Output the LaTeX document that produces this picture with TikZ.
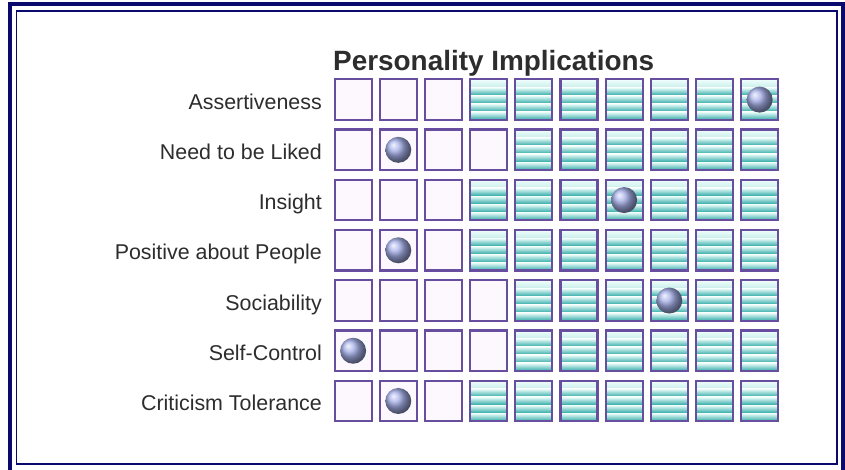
\documentclass[tikz,border=0pt]{standalone}
\usepackage{fontspec}
\setmainfont{Liberation Sans}
\usetikzlibrary{calc}
\definecolor{navy}{RGB}{10,10,110}
\definecolor{cellborder}{RGB}{104,78,158}
\definecolor{cellfill}{RGB}{253,248,253}
\definecolor{stripetop}{RGB}{240,255,252}
\definecolor{stripemid}{RGB}{100,228,214}
\definecolor{stripebot}{RGB}{45,168,165}
\definecolor{ballblue}{RGB}{165,175,232}
\definecolor{textgray}{RGB}{45,45,45}
\tikzset{
  cellbox/.style={draw=cellborder, line width=2.2pt, minimum width=37pt, minimum height=40.6pt, inner sep=0pt},
  emptycell/.style={cellbox, fill=cellfill},
  filledcell/.style={cellbox, fill=stripemid, path picture={
    \foreach \i [evaluate=\i as \a using \i/5, evaluate=\i as \b using (\i+1)/5] in {0,...,4}
      \shade[top color=stripetop, middle color=stripemid, bottom color=stripebot]
        ($(path picture bounding box.north west)!\a!(path picture bounding box.south west)$)
        rectangle
        ($(path picture bounding box.north east)!\b!(path picture bounding box.south east)$);
  }},
  ballnode/.style={circle, inner sep=0pt, minimum size=26pt, ball color=ballblue},
  lab/.style={anchor=base east, inner sep=0pt, text=textgray, font=\fontsize{21.4}{25}\selectfont},
  titlestyle/.style={anchor=base west, inner sep=0pt, text=textgray, font=\fontsize{27.9}{33}\selectfont\bfseries}
}
\begin{document}
\begin{tikzpicture}[x=1pt,y=-1pt]
\useasboundingbox (0,0) rectangle (845,469);
\clip (0,0) rectangle (845,469);
\fill[white] (0,0) rectangle (845,469);
% frame
\draw[navy, line width=4pt] (10.3,4.3) rectangle (843,490);
\draw[navy, line width=1.7pt] (16.5,11.2) rectangle (837,464.2);
% title
\node[titlestyle] (title) at (333,70) {Personality Implications};
% rows
\foreach \lab/\ball/\fc [count=\r] in {Assertiveness/10/4, Need to be Liked/2/5, Insight/7/4, Positive about People/2/4, Sociability/8/5, Self-Control/1/5, Criticism Tolerance/2/4} {
  \pgfmathsetmacro{\yc}{99.6+50.23*(\r-1)}
  \node[lab] (l-\r) at (322,\yc+9.7) {\lab};
  \foreach \c in {1,...,10} {
    \ifnum\c<\fc\relax \def\sty{emptycell}\else\def\sty{filledcell}\fi
    \node[\sty] (c-\r-\c) at ({353.1+45.17*(\c-1)},\yc) {};
  }
  \node[ballnode] (b-\r) at (c-\r-\ball) {};
}
\end{tikzpicture}
\end{document}
